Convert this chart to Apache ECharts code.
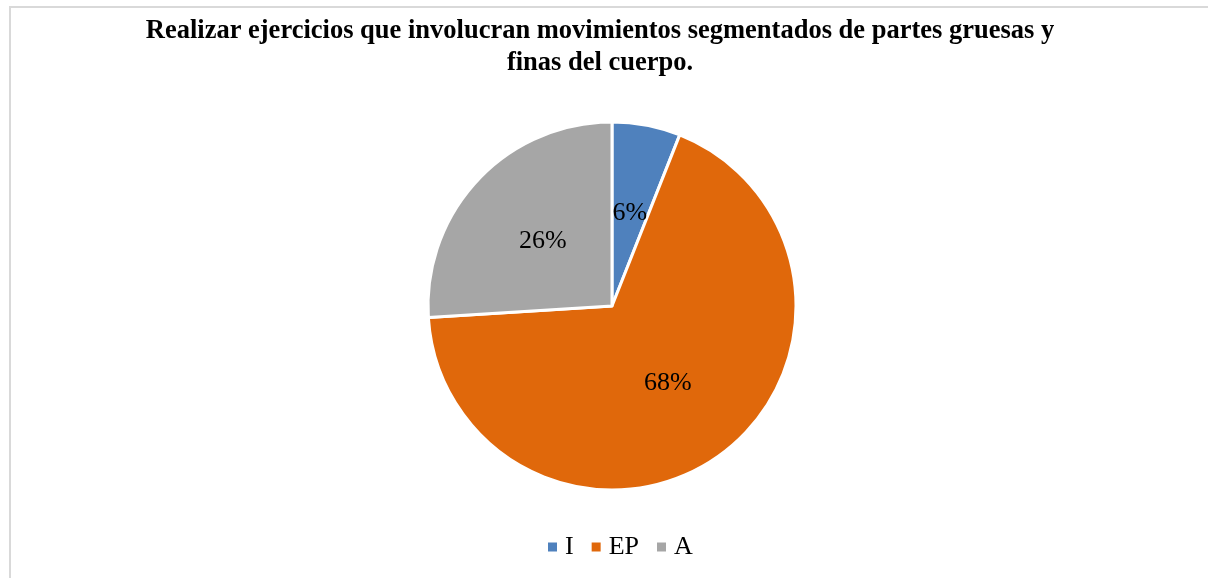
<!DOCTYPE html>
<html>
<head>
<meta charset="utf-8">
<script src="https://cdn.jsdelivr.net/npm/echarts@6/dist/echarts.min.js"></script>
<style>
  html, body { margin: 0; padding: 0; background: #fff; }
  #chart { width: 1208px; height: 578px; }
</style>
</head>
<body>
<div id="chart"></div>
<script>
// datos del gráfico
const categorias = ['I', 'EP', 'A'];
const valores = [6, 68, 26];
const colores = ['#4f81bd', '#e0680b', '#a6a6a6'];

const chart = echarts.init(document.getElementById('chart'), null, { renderer: 'canvas' });

let datos = categorias.map(function (c, i) {
    return { name: c, value: valores[i], itemStyle: { color: colores[i] } };
});

const fuente = '"Liberation Serif", "Times New Roman", serif';

chart.setOption({
    animation: false,
    backgroundColor: '#fff',
    title: {
        text: 'Realizar ejercicios que involucran movimientos segmentados de partes gruesas y\nfinas del cuerpo.',
        left: 595,
        top: 10,
        textAlign: 'center',
        textStyle: {
            fontFamily: fuente,
            fontWeight: 'bold',
            fontSize: 26.5,
            lineHeight: 32,
            color: '#000'
        }
    },
    legend: {
        data: categorias,
        top: 529,
        left: 541,
        itemWidth: 11,
        itemHeight: 11,
        itemGap: 16,
        icon: 'rect',
        selectedMode: false,
        textStyle: { fontFamily: fuente, fontSize: 26, color: '#000', padding: [0, 0, 0, 2] }
    },
    graphic: [
        // marco del área del gráfico (sólo arriba e izquierda visibles)
        { type: 'line', shape: { x1: 9, y1: 7, x2: 1208, y2: 7 }, style: { stroke: '#d9d9d9', lineWidth: 2 } },
        { type: 'line', shape: { x1: 10, y1: 6, x2: 10, y2: 578 }, style: { stroke: '#d9d9d9', lineWidth: 2 } }
    ],
    series: [{
        type: 'pie',
        center: [612, 306],
        radius: 184,
        startAngle: 90,
        clockwise: true,
        data: datos,
        itemStyle: { borderColor: '#fff', borderWidth: 3 },
        label: {
            position: 'inner',
            formatter: '{d}%',
            fontFamily: fuente,
            fontSize: 26,
            color: '#000'
        },
        labelLine: { show: false },
        emphasis: { disabled: true }
    }]
});
</script>
</body>
</html>
